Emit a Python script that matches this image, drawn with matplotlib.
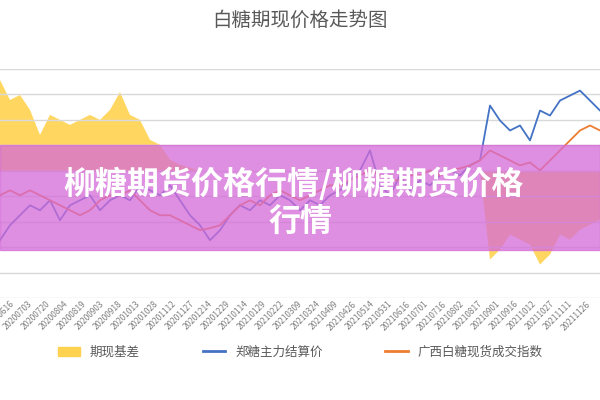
import matplotlib.pyplot as plt
import matplotlib.patches as mpatches
import numpy as np

plt.rcParams['font.family'] = ['Noto Sans CJK SC', 'DejaVu Sans']

# 郑糖主力结算价
zheng = [4568, 4715, 4813, 4911, 4862, 4960, 4764, 4911, 4960, 5009,
         4862, 4960, 5009, 4960, 5107, 5058, 5009, 5107, 4960, 4813,
         4715, 4568, 4666, 4813, 4911, 4862, 4960, 4911, 5009, 4960,
         4862, 4960, 4911, 5009, 5058, 5156, 5254, 5450, 5107, 5009,
         5205, 5058, 5156, 5107, 5205, 5254, 5205, 5303, 5352, 5891,
         5744, 5646, 5695, 5548, 5842, 5793, 5940, 5989, 6038, 5940, 5842]
# 广西白糖现货成交指数
guangxi = [5009, 5058, 5009, 5058, 5009, 4960, 4911, 4862, 4813, 4862,
           4960, 5009, 5009, 5058, 4960, 4862, 4813, 4813, 4764, 4715,
           4666, 4686, 4715, 4813, 4911, 4960, 4911, 5009, 5058, 5009,
           4960, 5009, 5058, 5107, 5107, 5156, 5205, 5254, 5205, 5156,
           5156, 5205, 5205, 5254, 5205, 5254, 5274, 5303, 5352, 5450,
           5401, 5352, 5303, 5332, 5254, 5352, 5450, 5548, 5646, 5695, 5646]
# 期现基差
basis = [892, 696, 745, 598, 353, 549, 500, 451, 500, 549,
         500, 598, 774, 549, 500, 304, 255, 108, 59, 29,
         0, 0, 0, 0, 0, 0, 0, 0, 0, 0,
         0, 0, 0, 0, 0, 0, 0, 0, 0, 0,
         0, 0, 0, 0, 0, 0, 0, 0, 0, -872,
         -774, -627, -676, -725, -921, -823, -627, -676, -578, -529, -480]

dates = ['20200616', '20200703', '20200720', '20200804', '20200819', '20200903',
         '20200918', '20201013', '20201028', '20201112', '20201127', '20201214',
         '20201229', '20210114', '20210129', '20210222', '20210309', '20210324',
         '20210409', '20210426', '20210514', '20210531', '20210616', '20210701',
         '20210716', '20210802', '20210817', '20210901', '20210916', '20211012',
         '20211027', '20211111', '20211126']

x = np.arange(len(zheng))

fig = plt.figure(figsize=(6, 4), dpi=100)
ax = fig.add_axes([0, 0.255, 1, 0.5725])
ax2 = ax.twinx()

ax2.fill_between(x, 0, basis, color='#ffd34f', lw=0, alpha=0.9)
ax2.set_ylim(-1250, 1000)
ax2.axis('off')

ax.plot(x, zheng, color='#4472c4', lw=1.3)
ax.plot(x, guangxi, color='#ed7d31', lw=1.3)
ax.set_ylim(4000, 6250)
ax.set_yticks(np.arange(4000, 6251, 250))
ax.set_xlim(0, 60)
ax.set_zorder(ax2.get_zorder() + 1)
ax.patch.set_visible(False)
ax.grid(axis='y', color='#d9d9d9', lw=1)
ax.tick_params(axis='y', length=0, labelleft=False)
for s in ax.spines.values():
    s.set_visible(False)
ax.set_xticks(1.6 + 1.8 * np.arange(len(dates)))
ax.set_xticklabels(dates, rotation=45, ha='right', fontsize=6, color='#7f7f7f')
ax.tick_params(axis='x', length=0, pad=1)

fig.text(0.5, 0.95, '白糖期现价格走势图', ha='center', va='center', fontsize=14, color='#595959')

handles = [mpatches.Patch(color='#ffd34f', label='期现基差'),
           plt.Line2D([], [], color='#4472c4', lw=2, label='郑糖主力结算价'),
           plt.Line2D([], [], color='#ed7d31', lw=2, label='广西白糖现货成交指数')]
fig.legend(handles=handles, loc='center', bbox_to_anchor=(0.5, 0.12), ncol=3,
           frameon=False, fontsize=9, labelcolor='#595959', columnspacing=5, handlelength=1.8)

fig.patches.append(mpatches.Rectangle((0, 0.375), 1, 0.2625, transform=fig.transFigure,
                                      color='#d56ad8', alpha=0.75, zorder=5))
fig.text(0.49, 0.54, '柳糖期货价格行情/柳糖期货价格', ha='center', va='center', fontsize=23,
         color='white', fontweight='heavy', zorder=6)
fig.text(0.5, 0.443, '行情', ha='center', va='center', fontsize=23,
         color='white', fontweight='heavy', zorder=6)

fig.savefig('out.png', dpi=100)
